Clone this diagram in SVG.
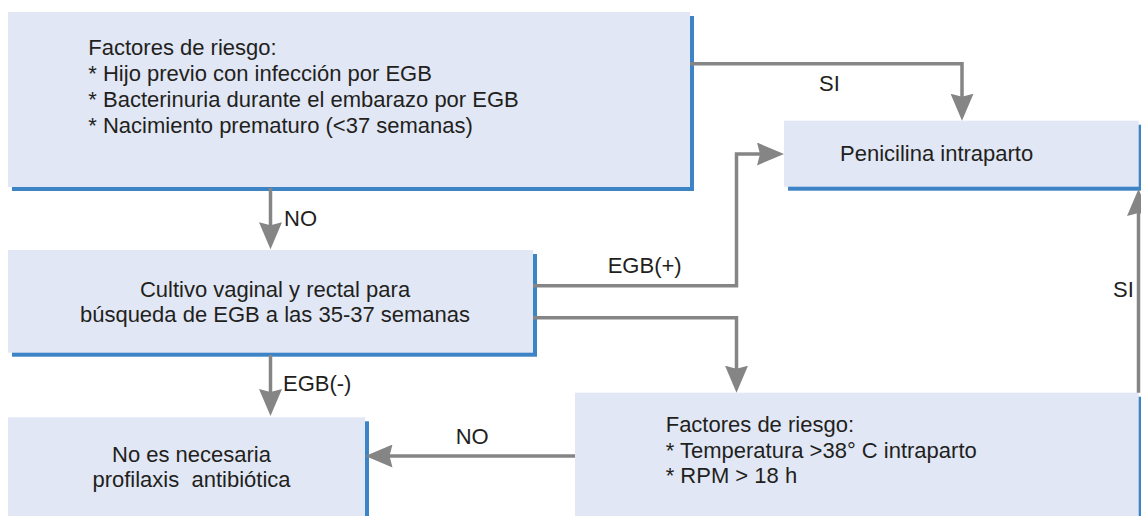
<svg xmlns="http://www.w3.org/2000/svg" width="1141" height="516" viewBox="0 0 1141 516">
<style>
.fill{fill:#E1E7F5}
.edge{fill:#3C84C6}
.t{font-family:"Liberation Sans",Arial,sans-serif;font-size:22px;fill:#231F20}
.c{text-anchor:middle}
.con{fill:none;stroke:#858585;stroke-width:3.5;marker-end:url(#ah)}
</style>
<defs>
<marker id="ah" viewBox="0 0 27 23" refX="7" refY="11.5" markerWidth="27" markerHeight="23" markerUnits="userSpaceOnUse" orient="auto">
<path d="M0,0 L27,11.5 L0,23 L3,11.5 z" fill="#858585"/>
</marker>
</defs>
<rect width="1141" height="516" fill="#FFFFFF"/>

<g id="factores1">
<rect class="edge" x="12" y="16" width="682" height="175"/>
<rect class="fill" x="8" y="12" width="682" height="175"/>
<text class="t" x="88.3" y="54.5">Factores de riesgo:</text>
<text class="t" x="88.3" y="80.7">* Hijo previo con infección por EGB</text>
<text class="t" x="88.3" y="106.7">* Bacterinuria durante el embarazo por EGB</text>
<text class="t" x="88.3" y="132.5">* Nacimiento prematuro (&lt;37 semanas)</text>
</g>

<g id="penicilina">
<rect class="edge" x="788" y="124.7" width="360" height="66"/>
<rect class="fill" x="784" y="120.7" width="354.7" height="66"/>
<text class="t" x="840" y="160.7">Penicilina intraparto</text>
</g>

<g id="cultivo">
<rect class="edge" x="12" y="254" width="525" height="102.7"/>
<rect class="fill" x="8" y="250" width="525" height="102.7"/>
<text class="t c" x="275" y="296.7">Cultivo vaginal y rectal para</text>
<text class="t c" x="275" y="321.7">búsqueda de EGB a las 35-37 semanas</text>
</g>

<g id="noprofilaxis">
<rect class="edge" x="12" y="421.3" width="357" height="110"/>
<rect class="fill" x="8" y="417.3" width="357" height="110"/>
<text class="t c" x="191.5" y="461.7">No es necesaria</text>
<text class="t c" x="191.5" y="487.3" xml:space="preserve" style="white-space:pre">profilaxis  antibiótica</text>
</g>

<g id="factores2">
<rect class="edge" x="579" y="396.7" width="564" height="130"/>
<rect class="fill" x="575" y="392.7" width="563.7" height="130"/>
<text class="t" x="665.7" y="431.7">Factores de riesgo:</text>
<text class="t" x="665.7" y="457.7">* Temperatura &gt;38° C intraparto</text>
<text class="t" x="665.7" y="483.3">* RPM &gt; 18 h</text>
</g>

<g id="connectors">
<path class="con" d="M690,63.7 H962 V100.7"/>
<path class="con" d="M270.5,188 V229.3"/>
<path class="con" d="M533,285.7 H736.5 V154 H764"/>
<path class="con" d="M533,317.7 H736.5 V372.7"/>
<path class="con" d="M270.5,355 V396"/>
<path class="con" d="M575,456 H385.5"/>
<path class="con" d="M1138.5,392.7 V209"/>
<text class="t" x="819" y="91">SI</text>
<text class="t" x="284" y="225.7">NO</text>
<text class="t" x="607.7" y="273.3">EGB(+)</text>
<text class="t" x="283" y="390.7">EGB(-)</text>
<text class="t" x="455.7" y="444.3">NO</text>
<text class="t" x="1113" y="297">SI</text>
</g>
</svg>
